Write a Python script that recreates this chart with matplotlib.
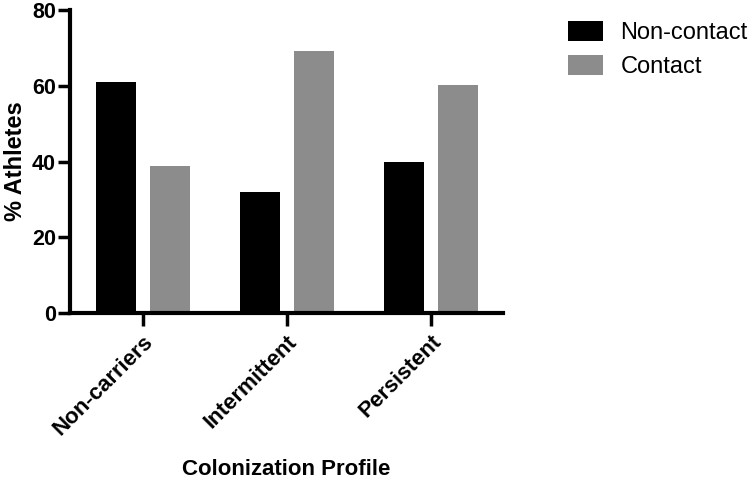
import numpy as np
import matplotlib.pyplot as plt

plt.rcParams['font.family'] = ['Liberation Sans', 'DejaVu Sans']

# data
categories = ["Non-carriers", "Intermittent", "Persistent"]
non_contact = [61.1, 32.0, 40.0]
contact = [38.9, 69.2, 60.2]

fig = plt.figure(figsize=(7.5, 4.79), dpi=100)
ax = fig.add_axes([70 / 750, 1 - 313 / 479, 433 / 750, 303 / 479])

x = np.arange(len(categories))
w = 0.278
ax.bar(x - 0.188, non_contact, width=w, color='black', label='Non-contact')
ax.bar(x + 0.188, contact, width=w, color='#8c8c8c', label='Contact')

ax.set_xlim(-0.505, 2.50)
ax.set_ylim(0, 80)
ax.set_yticks([0, 20, 40, 60, 80])
ax.set_xticks(x)
ax.set_xticklabels(categories, rotation=45, ha='right', rotation_mode='anchor',
                   fontsize=16, fontweight='bold')
for lab in ax.get_yticklabels():
    lab.set_fontsize(15.5)
    lab.set_fontweight('bold')

for side in ['top', 'right']:
    ax.spines[side].set_visible(False)
for side in ['left', 'bottom']:
    ax.spines[side].set_linewidth(3)
ax.tick_params(axis='both', length=9, width=2.5, pad=1)
ax.tick_params(axis='x', pad=4)

ax.set_ylabel('% Athletes', fontsize=17, fontweight='bold', labelpad=4)
ax.set_xlabel('Colonization Profile', fontsize=16, fontweight='bold', labelpad=14)

fig.legend(loc='upper left', bbox_to_anchor=(567.7 / 750, 1 - 21 / 479),
           frameon=False, fontsize=17, handlelength=1.48, handleheight=0.93,
           handletextpad=0.75, labelspacing=0.44, borderpad=0, borderaxespad=0)

fig.savefig('out.png', dpi=100)
